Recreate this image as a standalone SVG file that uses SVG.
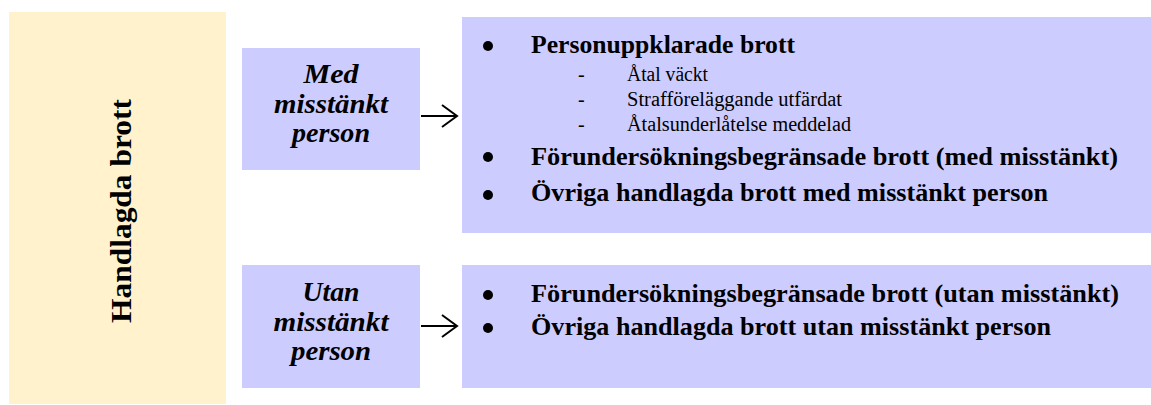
<svg xmlns="http://www.w3.org/2000/svg" width="1151" height="405" viewBox="0 0 1151 405">
<style>
.bg{fill:#ffffff}
.yel{fill:#fff2cc}
.lav{fill:#ccccff}
.t{font-family:'Liberation Serif','DejaVu Serif','Times New Roman',serif;fill:#000}
.big{font-size:25px;font-weight:bold}
.sub{font-size:20px}
.lbl{font-size:27px;font-weight:bold;font-style:italic;text-anchor:middle}
.title{font-size:30px;font-weight:bold;text-anchor:middle}
.bul{fill:#000}
.conn{stroke:#000;stroke-width:2;fill:none}
</style>
<defs>
<marker id="arr" viewBox="0 0 20 24" refX="18" refY="12" markerWidth="20" markerHeight="24" markerUnits="userSpaceOnUse" orient="auto">
<path d="M3,1 L18,12 L3,23" fill="none" stroke="#000" stroke-width="2"/>
</marker>
</defs>
<rect class="bg" x="0" y="0" width="1151" height="405"/>
<g id="handlagda">
<rect class="yel" x="9" y="12" width="217" height="392"/>
<text class="t title" font-family="Liberation Serif, DejaVu Serif, serif" transform="translate(131,211) rotate(-90)" textLength="224" lengthAdjust="spacingAndGlyphs">Handlagda brott</text>
</g>
<g id="med">
<rect class="lav" x="242" y="48" width="178" height="122"/>
<text class="t lbl" x="331" y="83" textLength="55" lengthAdjust="spacingAndGlyphs">Med</text>
<text class="t lbl" x="331" y="112.5" textLength="114" lengthAdjust="spacingAndGlyphs">misstänkt</text>
<text class="t lbl" x="331" y="142" textLength="78" lengthAdjust="spacingAndGlyphs">person</text>
</g>
<g id="utan">
<rect class="lav" x="242" y="265" width="178" height="123"/>
<text class="t lbl" x="331" y="300.5" textLength="57" lengthAdjust="spacingAndGlyphs">Utan</text>
<text class="t lbl" x="331" y="330.5" textLength="115" lengthAdjust="spacingAndGlyphs">misstänkt</text>
<text class="t lbl" x="331" y="360" textLength="80" lengthAdjust="spacingAndGlyphs">person</text>
</g>
<g id="med-list">
<rect class="lav" x="462" y="17" width="689" height="216"/>
<circle class="bul" cx="488" cy="46" r="5"/>
<text class="t big" x="531" y="53" textLength="264" lengthAdjust="spacingAndGlyphs">Personuppklarade brott</text>
<text class="t sub" x="578" y="81">-</text>
<text class="t sub" x="627" y="81" textLength="81" lengthAdjust="spacingAndGlyphs">Åtal väckt</text>
<text class="t sub" x="578" y="106">-</text>
<text class="t sub" x="627" y="106" textLength="215" lengthAdjust="spacingAndGlyphs">Strafföreläggande utfärdat</text>
<text class="t sub" x="578" y="131">-</text>
<text class="t sub" x="627" y="131" textLength="224" lengthAdjust="spacingAndGlyphs">Åtalsunderlåtelse meddelad</text>
<circle class="bul" cx="488" cy="157" r="5"/>
<text class="t big" x="531" y="164.5" textLength="587" lengthAdjust="spacingAndGlyphs">Förundersökningsbegränsade brott (med misstänkt)</text>
<circle class="bul" cx="488" cy="195" r="5"/>
<text class="t big" x="531" y="201" textLength="517" lengthAdjust="spacingAndGlyphs">Övriga handlagda brott med misstänkt person</text>
</g>
<g id="utan-list">
<rect class="lav" x="462" y="265" width="689" height="123"/>
<circle class="bul" cx="488" cy="295" r="5"/>
<text class="t big" x="531" y="302" textLength="588" lengthAdjust="spacingAndGlyphs">Förundersökningsbegränsade brott (utan misstänkt)</text>
<circle class="bul" cx="488" cy="328" r="5"/>
<text class="t big" x="531" y="335" textLength="520" lengthAdjust="spacingAndGlyphs">Övriga handlagda brott utan misstänkt person</text>
</g>
<g id="connectors">
<line class="conn" x1="421" y1="116" x2="457" y2="116" marker-end="url(#arr)"/>
<line class="conn" x1="421" y1="326" x2="457" y2="326" marker-end="url(#arr)"/>
</g>
</svg>
